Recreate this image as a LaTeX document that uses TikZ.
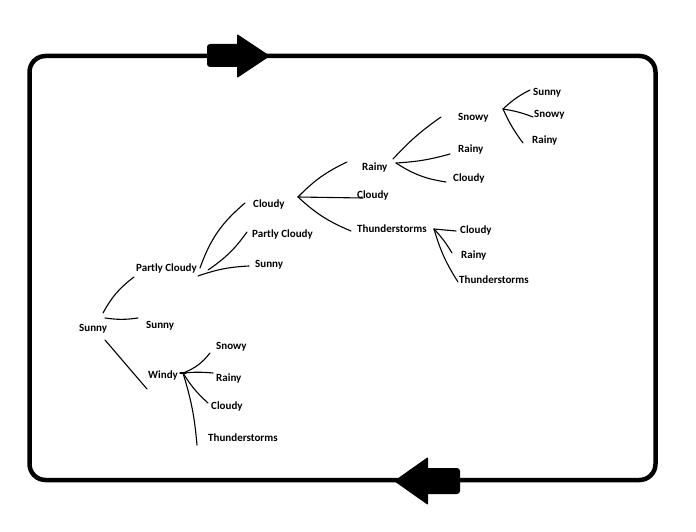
\documentclass[tikz,border=0pt]{standalone}
\usepackage{fontspec}
\setmainfont{Carlito}
\usetikzlibrary{calc}
\begin{document}
\begin{tikzpicture}[x=1pt,y=-1pt,
  lbl/.style={anchor=base west,inner sep=0pt,font=\fontsize{11}{13}\selectfont\bfseries},
  twig/.style={line width=1.1pt,line cap=round}]
\useasboundingbox (0,0) rectangle (696,532);
% cycle frame
\draw[line width=4.5pt,rounded corners=16pt] (29.5,56) rectangle (655.5,480);
\fill[rounded corners=3pt] (207,44) rectangle (242,67);
\fill[rounded corners=1pt] (237,34) -- (270,56) -- (237,78) -- cycle;
\fill[rounded corners=3pt] (423,468) rectangle (460,494);
\fill[rounded corners=1pt] (428,457) -- (394,481) -- (428,505) -- cycle;
% states
\node[lbl] (s0) at (79,331) {Sunny};
\node[lbl] (pc) at (136,271) {Partly Cloudy};
\node[lbl] (s1) at (146,328) {Sunny};
\node[lbl] (wd) at (148,378) {Windy};
\node[lbl] (pc-cl) at (253,207) {Cloudy};
\node[lbl] (pc-pc) at (252,237) {Partly Cloudy};
\node[lbl] (pc-su) at (255,267) {Sunny};
\node[lbl] (cl-ra) at (362,171) {Rainy};
\node[lbl] (cl-cl) at (357,198) {Cloudy};
\node[lbl] (cl-th) at (357,232) {Thunderstorms};
\node[lbl] (ra-sn) at (458,121) {Snowy};
\node[lbl] (ra-ra) at (458,153) {Rainy};
\node[lbl] (ra-cl) at (453,181) {Cloudy};
\node[lbl] (sn-su) at (533,96) {Sunny};
\node[lbl] (sn-sn) at (534,118) {Snowy};
\node[lbl] (sn-ra) at (532,143) {Rainy};
\node[lbl] (th-cl) at (460,233) {Cloudy};
\node[lbl] (th-ra) at (461,258) {Rainy};
\node[lbl] (th-th) at (459,283) {Thunderstorms};
\node[lbl] (wd-sn) at (216,349) {Snowy};
\node[lbl] (wd-ra) at (216,381) {Rainy};
\node[lbl] (wd-cl) at (211,409) {Cloudy};
\node[lbl] (wd-th) at (208,441) {Thunderstorms};
% branch points and twig ends
\coordinate (s0-a) at (103,313);
\coordinate (s0-b) at (105,318);
\coordinate (s0-c) at (105,340);
\coordinate (pc-e) at (134,277);
\coordinate (s1-e) at (138,318);
\coordinate (wd-e) at (147,389);
\coordinate (wdhub) at (183,373);
\coordinate (wd-sn-e) at (210,353);
\coordinate (wd-ra-e) at (213,373);
\coordinate (wd-cl-e) at (208,403);
\coordinate (wd-th-e) at (197,445);
\coordinate (pc-a) at (200,268);
\coordinate (pc-b) at (208,270);
\coordinate (pc-c) at (198,276);
\coordinate (pc-cl-e) at (245,203);
\coordinate (pc-pc-e) at (247,232);
\coordinate (pc-su-e) at (249,266);
\coordinate (clhub) at (298,197);
\coordinate (cl-ra-e) at (347,162);
\coordinate (cl-cl-e) at (363,198);
\coordinate (cl-th-e) at (351,231);
\coordinate (rahub) at (396,163);
\coordinate (ra-sn-e) at (441,117);
\coordinate (ra-ra-e) at (450,154);
\coordinate (ra-cl-e) at (446,182);
\coordinate (snhub) at (503,109);
\coordinate (sn-su-e) at (530,90);
\coordinate (sn-sn-e) at (533,117);
\coordinate (sn-ra-e) at (523,143);
\coordinate (thhub) at (434,229);
\coordinate (th-cl-e) at (456,231);
\coordinate (th-ra-e) at (452,253);
\coordinate (th-th-e) at (458,282);
% twigs
\draw[twig] (s0-a) to[bend left=12] (pc-e);
\draw[twig] (s0-b) to[bend right=8] (s1-e);
\draw[twig] (s0-c) -- (wd-e);
\draw[twig] (wdhub) to[bend right=15] (wd-sn-e);
\draw[twig] (wdhub) to[bend left=5] (wd-ra-e);
\draw[twig] (wdhub) to[bend right=8] (wd-cl-e);
\draw[twig] (wdhub) to[bend left=6] (wd-th-e);
\draw[twig] ($(wdhub)+(-3,0)$) -- ($(wdhub)+(3,0)$);
\draw[twig] (pc-a) to[bend left=15] (pc-cl-e);
\draw[twig] (pc-b) to[bend right=10] (pc-pc-e);
\draw[twig] (pc-c) to[bend left=8] (pc-su-e);
\draw[twig] (clhub) to[bend left=10] (cl-ra-e);
\draw[twig] (clhub) -- (cl-cl-e);
\draw[twig] (clhub) to[bend right=10] (cl-th-e);
\draw[twig] ($(rahub)+(-3,-4)$) to[bend left=6] (ra-sn-e);
\draw[twig] (rahub) to[bend right=6] (ra-ra-e);
\draw[twig] (rahub) to[bend right=12] (ra-cl-e);
\draw[twig] (snhub) to[bend left=8] (sn-su-e);
\draw[twig] (snhub) to[bend left=6] (sn-sn-e);
\draw[twig] (snhub) to[bend right=6] (sn-ra-e);
\draw[twig] (thhub) -- (th-cl-e);
\draw[twig] (thhub) to[bend left=6] (th-ra-e);
\draw[twig] (thhub) to[bend right=8] (th-th-e);
\end{tikzpicture}
\end{document}
